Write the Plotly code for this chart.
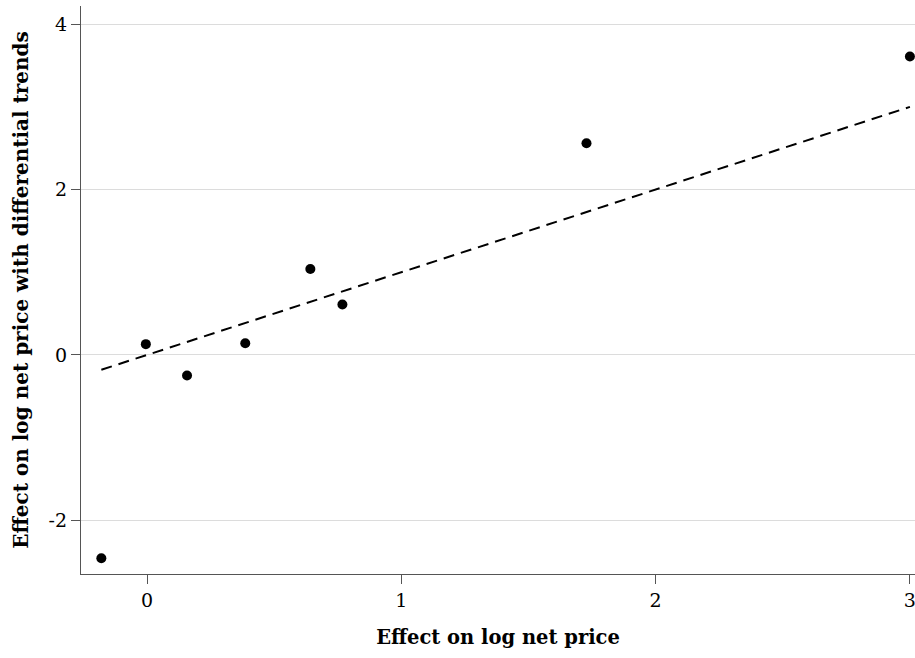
import plotly.graph_objects as go

# Estimated effects: baseline specification vs. specification with differential trends
effect_log_net_price = [-0.18, -0.005, 0.157, 0.386, 0.642, 0.768, 1.728, 3.0]
effect_with_trends = [-2.46, 0.13, -0.25, 0.14, 1.04, 0.61, 2.56, 3.61]

x_ticks = [0, 1, 2, 3]
y_ticks = [-2, 0, 2, 4]

x_lo, x_hi = min(effect_log_net_price), max(effect_log_net_price)

fig = go.Figure()

# 45-degree reference line across the data range
fig.add_trace(go.Scatter(
    x=[x_lo, x_hi], y=[x_lo, x_hi],
    mode="lines",
    line=dict(color="black", width=2, dash="11px,7px"),
    hoverinfo="skip",
    showlegend=False,
))

fig.add_trace(go.Scatter(
    x=effect_log_net_price, y=effect_with_trends,
    mode="markers",
    marker=dict(color="black", size=10),
    showlegend=False,
))

serif = "DejaVu Serif, serif"

fig.update_layout(
    width=915, height=658,
    margin=dict(l=81, r=0, t=6, b=84),
    paper_bgcolor="white",
    plot_bgcolor="white",
    font=dict(family=serif, color="black", size=19),
    xaxis=dict(
        range=[-0.26, 3.02],
        tickvals=x_ticks,
        ticktext=[str(v) for v in x_ticks],
        ticklabeloverflow="allow",
        ticks="outside", ticklen=9, tickcolor="#555", tickwidth=1,
        showgrid=False, zeroline=False,
        showline=True, linecolor="#555", linewidth=1.3,
        tickfont=dict(size=19),
        title=dict(text="<b>Effect on log net price</b>", font=dict(size=19.5), standoff=20),
    ),
    yaxis=dict(
        range=[-2.65, 4.22],
        tickvals=y_ticks,
        ticktext=[str(v) for v in y_ticks],
        ticks="outside", ticklen=9, tickcolor="#555", tickwidth=1,
        showgrid=True, gridcolor="#dcdcdc", gridwidth=1.3,
        zeroline=False,
        showline=True, linecolor="#555", linewidth=1.3,
        tickfont=dict(size=19),
        title=dict(text="<b>Effect on log net price with differential trends</b>",
                   font=dict(size=20), standoff=14),
    ),
)

fig.write_html("out.html")
